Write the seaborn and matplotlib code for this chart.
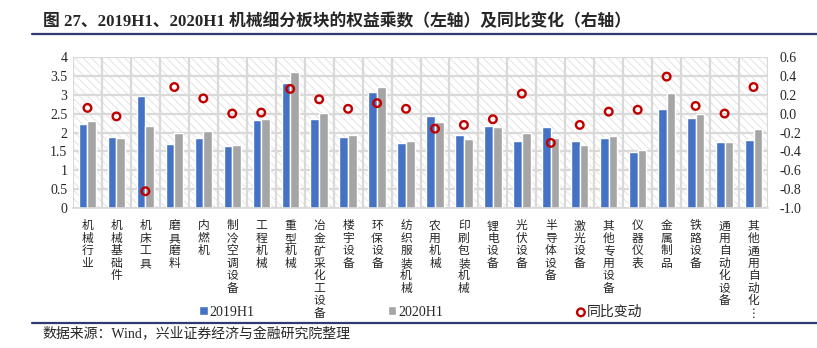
import numpy as np
import pandas as pd
import matplotlib
matplotlib.use("Agg")
import matplotlib.pyplot as plt
import seaborn as sns
from matplotlib.patches import Rectangle
from matplotlib.lines import Line2D
from matplotlib.ticker import FixedLocator

# ---- data ----
categories = ["机械行业", "机械基础件", "机床工具", "磨具磨料", "内燃机", "制冷空调设备",
              "工程机械", "重型机械", "冶金矿采化工设备", "楼宇设备", "环保设备", "纺织服装机械",
              "农用机械", "印刷包装机械", "锂电设备", "光伏设备", "半导体设备", "激光设备",
              "其他专用设备", "仪器仪表", "金属制品", "铁路设备", "通用自动化设备", "其他通用自动化…"]
equity_2019h1 = [2.22, 1.88, 2.96, 1.69, 1.85, 1.65, 2.33, 3.31, 2.35, 1.87, 3.08, 1.71,
                 2.44, 1.93, 2.18, 1.77, 2.15, 1.78, 1.86, 1.49, 2.62, 2.39, 1.74, 1.79]
equity_2020h1 = [2.30, 1.86, 2.16, 1.99, 2.03, 1.67, 2.36, 3.59, 2.51, 1.94, 3.20, 1.78,
                 2.29, 1.84, 2.14, 2.00, 1.86, 1.67, 1.91, 1.54, 3.03, 2.49, 1.76, 2.08]
yoy_change = [0.06, -0.03, -0.82, 0.28, 0.16, 0.00, 0.01, 0.26, 0.15, 0.05, 0.11, 0.05,
              -0.16, -0.12, -0.06, 0.21, -0.31, -0.12, 0.02, 0.04, 0.39, 0.08, 0.00, 0.28]
series_names = ["2019H1", "2020H1"]
yoy_name = "同比变动"
left_ticks = [0, 0.5, 1, 1.5, 2, 2.5, 3, 3.5, 4]
right_ticks = [-1.0, -0.8, -0.6, -0.4, -0.2, 0.0, 0.2, 0.4, 0.6]

title = "图 27、2019H1、2020H1 机械细分板块的权益乘数（左轴）及同比变化（右轴）"
source = "数据来源：Wind，兴业证券经济与金融研究院整理"

# ---- style ----
sns.set_style("white")
plt.rcParams["font.family"] = ["Liberation Serif", "Noto Sans CJK SC", "DejaVu Sans"]
plt.rcParams["hatch.linewidth"] = 0.8

BLUE = "#4472C4"
GRAY = "#A5A5A5"
RED = "#C00000"
GRID = "#D9D9D9"
RULE = "#2E3A70"


def stack_vertical(name):
    # one character per line; a trailing ellipsis is written vertically
    return "\n".join("⋮" if ch == "…" else ch for ch in name)


df = pd.DataFrame({
    "category": categories * 2,
    "series": [series_names[0]] * len(categories) + [series_names[1]] * len(categories),
    "value": equity_2019h1 + equity_2020h1,
})

fig = plt.figure(figsize=(8.17, 3.48), dpi=100)
ax = fig.add_axes([73 / 817, 1 - 208.3 / 348, (768 - 73) / 817, (208.3 - 56.7) / 348])

# hatched plot background
ax.add_patch(Rectangle((0, 0), 1, 1, transform=ax.transAxes, facecolor="white",
                       edgecolor="#E6E6E6", hatch="\\\\\\\\", lw=0, zorder=0.1))
ax.set_axisbelow(True)

sns.barplot(data=df, x="category", y="value", hue="series", order=categories,
            hue_order=series_names, palette=[BLUE, GRAY], width=0.6,
            saturation=1, ax=ax, legend=True, zorder=2)

n = len(categories)
ax.set_xlim(-0.5, n - 0.5)
ax.set_ylim(0, 4)
ax.set_yticks(left_ticks)
ax.set_yticklabels([f"{v:g}" for v in left_ticks], fontsize=10)
ax.set_xticks(range(n))
ax.set_xticklabels([stack_vertical(c) for c in categories], fontsize=8.5,
                   family=["Noto Sans CJK SC", "DejaVu Sans"], linespacing=0.95, va="top")
ax.xaxis.set_minor_locator(FixedLocator(np.arange(-0.5, n, 1.0)))
ax.tick_params(axis="x", which="major", length=0, pad=8)
ax.tick_params(axis="x", which="minor", length=4, color=GRID, width=1.2)
ax.tick_params(axis="y", length=0, pad=4)
ax.grid(axis="y", which="major", color=GRID, lw=1.6)
ax.grid(axis="x", which="minor", color=GRID, lw=1.6)
ax.set_xlabel("")
ax.set_ylabel("")
for s in ["left", "right", "top"]:
    ax.spines[s].set_visible(False)
ax.spines["bottom"].set_color(GRID)
ax.spines["bottom"].set_linewidth(1.2)

# year-over-year change on the right axis
ax2 = ax.twinx()
sns.scatterplot(x=np.arange(n), y=yoy_change, ax=ax2, marker="o", s=30,
                color=RED, linewidth=1.7, label=yoy_name, zorder=3, legend=True)
for coll in ax2.collections:
    coll.set_facecolor("none")
    coll.set_edgecolor(RED)
ax2.set_ylim(-1.0, 0.6)
ax2.set_yticks(right_ticks)
ax2.set_yticklabels([f"{v:.1f}" for v in right_ticks], fontsize=10)
ax2.tick_params(axis="y", length=0, pad=8)
ax2.set_ylabel("")
for s in ["left", "right", "top", "bottom"]:
    ax2.spines[s].set_visible(False)
ax2.set_xlim(-0.5, n - 0.5)

# legend
h1, l1 = ax.get_legend_handles_labels()
h2, l2 = ax2.get_legend_handles_labels()
if ax.get_legend():
    ax.get_legend().remove()
if ax2.get_legend():
    ax2.get_legend().remove()
for h in h2:
    h.set_facecolor("none")
    h.set_edgecolor(RED)
fig.legend(h1 + h2, l1 + l2, loc="center", bbox_to_anchor=(421 / 817, 1 - 312 / 348),
           ncol=3, frameon=False, fontsize=10, handlelength=0.6, handleheight=0.6,
           handletextpad=0.15, columnspacing=9.6, borderaxespad=0)

# title, rules and source
fig.text(43 / 817, 1 - 22 / 348, title, fontsize=12.1, fontweight="bold",
         va="center", ha="left")
fig.add_artist(Line2D([32 / 817, 1], [1 - 33.5 / 348] * 2, color=RULE, lw=1.6))
fig.add_artist(Line2D([32 / 817, 1], [1 - 323 / 348] * 2, color=RULE, lw=1.6))
fig.text(42 / 817, 1 - 334 / 348, source, fontsize=10, va="center", ha="left")

fig.savefig("out.png", dpi=100)
